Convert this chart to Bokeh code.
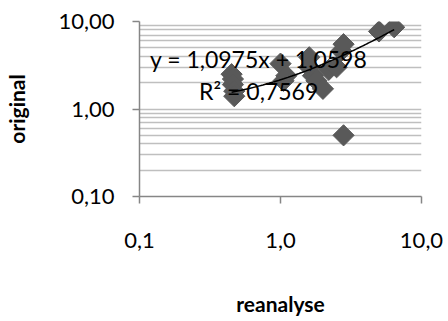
from bokeh.plotting import figure
from bokeh.models import FixedTicker, Label, ColumnDataSource
from bokeh.embed import file_html
from bokeh.resources import INLINE
import numpy as np

# reanalysed vs. original values
reanalyse = [0.45, 0.46, 0.46, 0.47, 0.47, 1.0, 1.05, 1.1, 1.6, 1.6, 1.7, 1.8, 2.0, 2.2, 2.5, 2.7, 2.8, 2.8, 5.0, 6.4]
original = [2.5, 2.2, 1.9, 1.6, 1.4, 3.3, 2.1, 2.4, 3.9, 3.0, 2.4, 2.1, 1.7, 2.8, 3.0, 4.6, 5.5, 0.5, 7.7, 8.6]

# linear trend line (Excel style) and its stats
slope = 1.0975
intercept = 1.0598
r2 = 0.7569

x_ticks = [0.1, 1, 10]
x_tick_labels = ["0,1", "1,0", "10,0"]
y_ticks = [0.1, 1, 10]
y_tick_labels = ["0,10", "1,00", "10,00"]
y_minor = [0.2, 0.3, 0.4, 0.5, 0.6, 0.7, 0.8, 0.9, 2, 3, 4, 5, 6, 7, 8, 9]

FONT = "Lato"

p = figure(width=448, height=321, x_axis_type="log", y_axis_type="log",
           x_range=(0.1, 10), y_range=(0.1, 10),
           output_backend="svg", toolbar_location=None,
           min_border_left=139, min_border_right=27,
           min_border_top=21, min_border_bottom=125)
p.outline_line_color = None
p.background_fill_color = "white"
p.border_fill_color = "white"

p.xaxis.ticker = FixedTicker(ticks=x_ticks)
p.yaxis.ticker = FixedTicker(ticks=y_ticks, minor_ticks=y_minor)
p.xaxis.major_label_overrides = dict(zip(x_ticks, x_tick_labels))
p.yaxis.major_label_overrides = dict(zip(y_ticks, y_tick_labels))

for ax in (p.xaxis, p.yaxis):
    ax.axis_line_color = "#868686"
    ax.axis_line_width = 1.5
    ax.major_tick_line_color = "#868686"
    ax.major_tick_line_width = 1.5
    ax.major_tick_out = 7
    ax.major_tick_in = 0
    ax.minor_tick_line_color = None
    ax.major_label_text_font = FONT
    ax.major_label_text_font_size = "22px"
    ax.major_label_text_color = "#000000"
    ax.axis_label_text_font = FONT
    ax.axis_label_text_font_size = "21px"
    ax.axis_label_text_font_style = "bold"
    ax.axis_label_text_color = "#000000"

p.xaxis.axis_label = "reanalyse"
p.yaxis.axis_label = "original"
p.xaxis.major_label_standoff = 29
p.xaxis.axis_label_standoff = 40
p.yaxis.major_label_standoff = 18
p.yaxis.axis_label_standoff = 26

p.xgrid.grid_line_color = None
p.ygrid.grid_line_color = "#bfbfbf"
p.ygrid.grid_line_width = 1.5
p.ygrid.minor_grid_line_color = "#bfbfbf"
p.ygrid.minor_grid_line_width = 1.5

src = ColumnDataSource(dict(x=reanalyse, y=original))
p.scatter("x", "y", source=src, marker="square", size=15, angle=np.pi / 4,
          fill_color="#595959", line_color="#595959")

tx = np.linspace(min(reanalyse), max(reanalyse), 80)
p.line(tx, slope * tx + intercept, line_color="black", line_width=1.5)

eq = "y = " + f"{slope:.4f}".replace(".", ",") + "x + " + f"{intercept:.4f}".replace(".", ",")
rr = "R² = " + f"{r2:.4f}".replace(".", ",")
p.add_layout(Label(x=0.70, y=3.68, text=eq, text_align="center", text_baseline="middle",
                   text_font=FONT, text_font_size="23px", text_color="#000000"))
p.add_layout(Label(x=0.70, y=1.61, text=rr, text_align="center", text_baseline="middle",
                   text_font=FONT, text_font_size="23px", text_color="#000000"))

open("out.html", "w").write(file_html(p, INLINE))
